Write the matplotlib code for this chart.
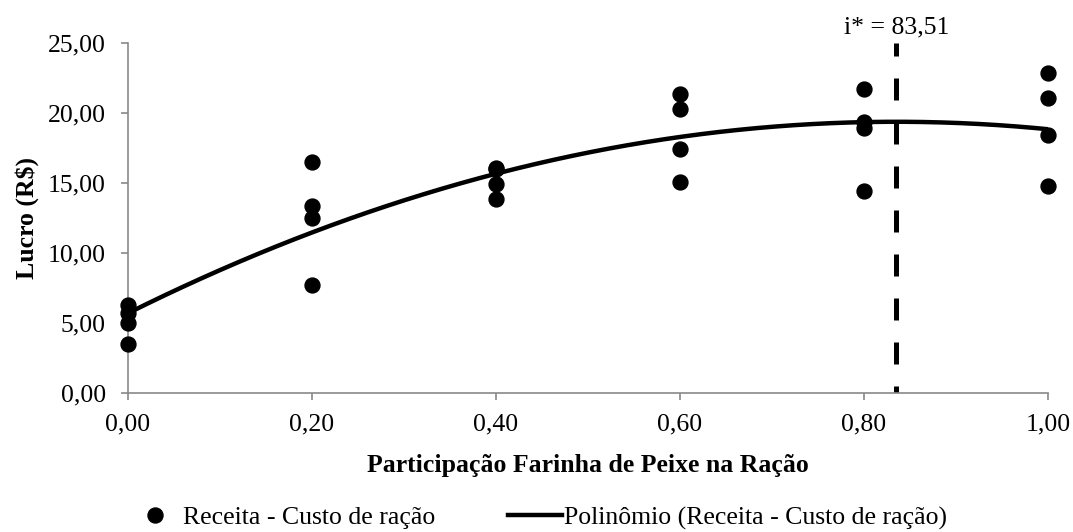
import matplotlib
matplotlib.use("Agg")
import matplotlib.pyplot as plt
import numpy as np
from matplotlib.lines import Line2D
from matplotlib.ticker import FuncFormatter, MultipleLocator

# data
participacao = [0.0] * 4 + [0.2] * 4 + [0.4] * 4 + [0.6] * 4 + [0.8] * 4 + [1.0] * 4
lucro = [6.3, 5.7, 5.0, 3.5,
         16.5, 13.36, 12.48, 7.71,
         16.1, 16.0, 14.93, 13.88,
         21.36, 20.29, 17.45, 15.09,
         21.69, 19.38, 18.9, 14.43,
         22.88, 21.1, 18.4, 14.8]
poly_coef = [-19.6, 32.74, 5.7]   # trendline y = c2 x^2 + c1 x + c0
i_star = 0.8351
i_star_label = "i* = 83,51"

GRAY = "#898989"
plt.rcParams["font.family"] = ["Liberation Serif", "DejaVu Serif"]
plt.rcParams["font.size"] = 18.5

fig = plt.figure(figsize=(10.73, 5.32), dpi=100)
ax = fig.add_axes([0.1193, 0.2613, 0.8574, 0.6579])

ax.scatter(participacao, lucro, s=115, color="black", zorder=3, clip_on=False)
xs = np.linspace(0, 1, 200)
ax.plot(xs, np.polyval(poly_coef, xs), color="black", lw=3.2, zorder=2)
ax.plot([i_star, i_star], [25, 0], color="black", lw=3.6,
        linestyle=(1.8, (4.4, 4.4)), zorder=2)
ax.annotate(i_star_label, (i_star, 25), xytext=(0, 3), textcoords="offset points",
            ha="center", va="bottom", annotation_clip=False)

ax.set_xlim(0, 1); ax.set_ylim(0, 25)
ax.xaxis.set_major_locator(MultipleLocator(0.2)); ax.yaxis.set_major_locator(MultipleLocator(5))
fmt = FuncFormatter(lambda v, p: f"{v:.2f}".replace(".", ","))
ax.xaxis.set_major_formatter(fmt); ax.yaxis.set_major_formatter(fmt)
for s in ("top", "right"):
    ax.spines[s].set_visible(False)
for s in ("left", "bottom"):
    ax.spines[s].set_color(GRAY); ax.spines[s].set_linewidth(1.2)
ax.tick_params(axis="both", direction="out", length=5, width=1.2, color=GRAY)
ax.tick_params(axis="y", pad=11)
ax.tick_params(axis="x", pad=10)
ax.set_xlabel("Participação Farinha de Peixe na Ração", fontweight="bold", labelpad=13)
ax.set_ylabel("Lucro (R$)", fontweight="bold", labelpad=6)

handles = [Line2D([], [], ls="none", marker="o", ms=10.8, color="black"),
           Line2D([], [], color="black", lw=3.2)]
fig.legend(handles, ["Receita - Custo de ração", "Polinômio (Receita - Custo de ração)"],
           loc="center left", bbox_to_anchor=(0.107, 0.026), ncol=2, frameon=False,
           borderpad=0, handlelength=2.1, handletextpad=0.05, columnspacing=2.85)

fig.savefig("out.png", dpi=100)
